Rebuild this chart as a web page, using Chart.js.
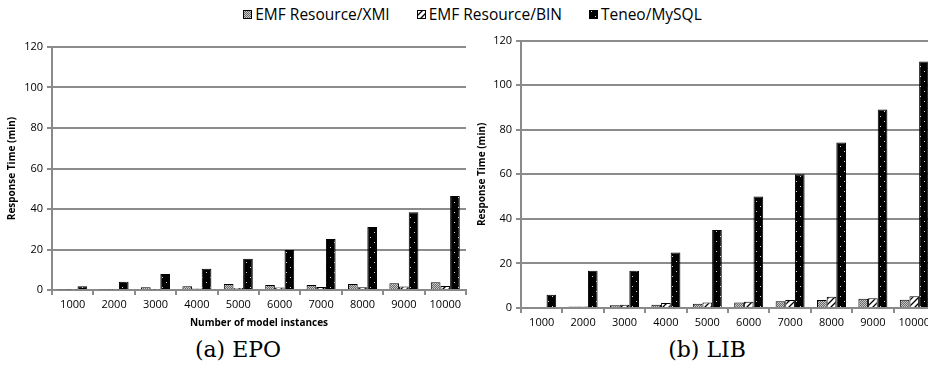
<!DOCTYPE html>
<html>
<head>
<meta charset="utf-8">
<script src="https://cdn.jsdelivr.net/npm/chart.js@4.4.1/dist/chart.umd.min.js"></script>
<style>
  html, body { margin: 0; padding: 0; background: #fff; width: 928px; height: 368px; overflow: hidden; position: relative; font-family: "Open Sans", sans-serif; }
  #legend { position: absolute; left: 0; top: 3px; width: 945px; display: flex; justify-content: center; align-items: center; font-size: 15.5px; color: #000; line-height: 22px; }
  .item { display: flex; align-items: center; margin: 0 13.5px; }
  .item canvas { margin-right: 3px; }
  #chartA { position: absolute; left: 0; top: 36px; }
  #chartB { position: absolute; left: 466px; top: 30px; }
  .caption { position: absolute; top: 336px; font-family: "DejaVu Serif", serif; font-size: 22px; line-height: 28px; transform: translateX(-50%); white-space: nowrap; }
</style>
</head>
<body>
<div id="legend"></div>
<canvas id="chartA" width="471" height="300"></canvas>
<canvas id="chartB" width="474" height="300"></canvas>
<div class="caption" style="left:238px">(a) EPO</div>
<div class="caption" style="left:707px">(b) LIB</div>
<script>
// Number of model instances on the x axis
const categories = ['1000', '2000', '3000', '4000', '5000', '6000', '7000', '8000', '9000', '10000'];
const seriesNames = ['EMF Resource/XMI', 'EMF Resource/BIN', 'Teneo/MySQL'];
const yTickValues = [0, 20, 40, 60, 80, 100, 120];

// EPO response times (min)
const epoXmi   = [0.3, 0.3, 1.4, 1.9, 3.0, 2.5, 2.5, 3.0, 3.3, 3.8];
const epoBin   = [0.2, 0.2, 0.3, 0.8, 1.0, 1.2, 1.5, 1.3, 1.7, 2.0];
const epoTeneo = [1.8, 4.1, 7.9, 10.5, 15.4, 19.8, 25.2, 31.1, 38.4, 46.4];

// LIB response times (min)
const libXmi   = [0.3, 0.7, 1.2, 1.5, 1.9, 2.5, 3.0, 3.6, 4.1, 3.7];
const libBin   = [0.4, 0.7, 1.5, 2.2, 2.5, 2.8, 3.6, 5.0, 4.4, 5.3];
const libTeneo = [6.0, 16.7, 16.7, 24.9, 35.0, 50.0, 60.0, 74.3, 89.1, 110.6];

const FONT = '"Open Sans", sans-serif';
const GRID = '#8c8c8c';
const AXIS = '#8a8a8a';

// Fill patterns for the three series
function makePattern(kind) {
  const c = document.createElement('canvas');
  const ctx = c.getContext('2d');
  if (kind === 0) {            // gray checker
    c.width = 2; c.height = 2;
    ctx.fillStyle = '#6a6a6a'; ctx.fillRect(0, 0, 2, 2);
    ctx.fillStyle = '#c8c8c8'; ctx.fillRect(0, 0, 1, 1); ctx.fillRect(1, 1, 1, 1);
  } else if (kind === 1) {     // white with diagonal hatch
    c.width = 6; c.height = 6;
    ctx.fillStyle = '#fff'; ctx.fillRect(0, 0, 6, 6);
    ctx.strokeStyle = '#000'; ctx.lineWidth = 1.3;
    ctx.beginPath();
    ctx.moveTo(-1, 7); ctx.lineTo(7, -1);
    ctx.moveTo(-1, 1); ctx.lineTo(1, -1);
    ctx.moveTo(5, 7); ctx.lineTo(7, 5);
    ctx.stroke();
  } else {                     // black with sparse white dots
    c.width = 8; c.height = 10;
    ctx.fillStyle = '#000'; ctx.fillRect(0, 0, 8, 10);
    ctx.fillStyle = '#dadada';
    ctx.fillRect(2, 1, 1, 1);
    ctx.fillRect(6, 6, 1, 1);
  }
  return ctx.createPattern(c, 'repeat');
}
const fills = [makePattern(0), makePattern(1), makePattern(2)];

// Shared legend
const legend = document.getElementById('legend');
seriesNames.forEach((name, i) => {
  const item = document.createElement('div');
  item.className = 'item';
  const sw = document.createElement('canvas');
  sw.width = 9; sw.height = 9;
  const sctx = sw.getContext('2d');
  sctx.fillStyle = fills[i]; sctx.fillRect(0, 0, 9, 9);
  sctx.strokeStyle = '#000'; sctx.lineWidth = 1; sctx.strokeRect(0.5, 0.5, 8, 8);
  const label = document.createElement('span');
  label.textContent = name;
  item.appendChild(sw); item.appendChild(label);
  legend.appendChild(item);
});

function buildChart(id, values, cfg) {
  return new Chart(document.getElementById(id), {
    type: 'bar',
    data: {
      labels: categories,
      datasets: values.map((v, i) => ({
        label: seriesNames[i],
        data: v,
        backgroundColor: fills[i],
        borderColor: '#000',
        borderWidth: 1,
        categoryPercentage: 0.7,
        barPercentage: 1.0
      }))
    },
    options: {
      responsive: false,
      animation: false,
      devicePixelRatio: 1,
      layout: { padding: cfg.padding },
      plugins: { legend: { display: false }, tooltip: { enabled: false } },
      scales: {
        x: {
          grid: { drawOnChartArea: false, drawTicks: true, tickLength: 5, color: GRID, lineWidth: 2, offset: true },
          border: { display: true, color: AXIS, width: 2 },
          ticks: { color: '#000', font: { family: FONT, size: 11 }, padding: 3, maxRotation: 0, autoSkip: false },
          title: cfg.xTitle
            ? { display: true, text: cfg.xTitle, color: '#000', font: { family: FONT, size: 10, weight: 'bold' }, padding: { top: 0, bottom: 7 } }
            : { display: false },
          afterFit: s => { s.height = cfg.xHeight; }
        },
        y: {
          min: 0, max: 120,
          afterBuildTicks: s => { s.ticks = yTickValues.map(v => ({ value: v })); },
          ticks: { color: '#000', font: { family: FONT, size: 11 }, padding: 4 },
          grid: { color: GRID, lineWidth: 2, tickLength: 5, drawTicks: true },
          border: { color: AXIS, width: 2 },
          title: { display: true, text: 'Response Time (min)', color: '#000', font: { family: FONT, size: 10, weight: 'bold' }, padding: { top: cfg.yTitlePad, bottom: 0 } },
          afterFit: s => { s.width = cfg.yWidth; }
        }
      }
    }
  });
}

buildChart('chartA', [epoXmi, epoBin, epoTeneo], {
  padding: { top: 11, right: 5, left: 0, bottom: 0 },
  xTitle: 'Number of model instances', xHeight: 46, yWidth: 52, yTitlePad: 6
});
buildChart('chartB', [libXmi, libBin, libTeneo], {
  padding: { top: 10, right: 5, left: 0, bottom: 0 },
  xTitle: null, xHeight: 22, yWidth: 55, yTitlePad: 10
});
</script>
</body>
</html>
